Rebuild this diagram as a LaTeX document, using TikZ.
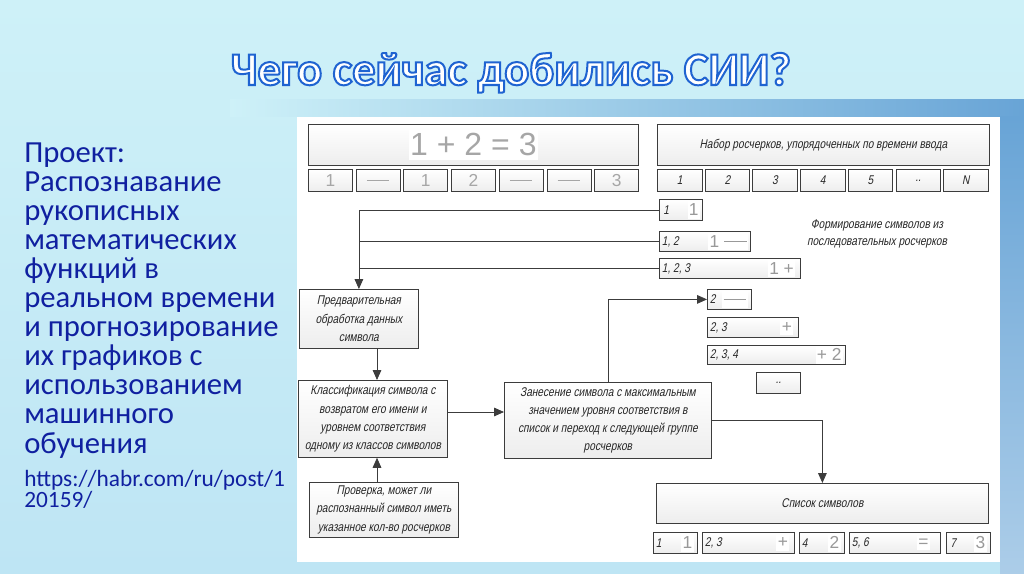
\documentclass[tikz,border=0pt]{standalone}
\usepackage{fontspec}
\setmainfont{Carlito}
\newfontfamily\gost{Liberation Sans}[FakeSlant=0.2,FakeStretch=0.8]
\newfontfamily\hand{Liberation Sans}
\usetikzlibrary{arrows.meta}
\definecolor{bgtop}{RGB}{206,241,248}
\definecolor{bgbot}{RGB}{190,229,244}
\definecolor{band}{RGB}{104,164,214}
\definecolor{navy}{RGB}{16,32,160}
\definecolor{ink}{RGB}{60,60,60}
% outlined title text (fill + stroke)
\newcommand{\rimtext}[1]{\special{pdf:literal 2 Tr 1.5 w 0.12 0.39 0.82 RG}#1\special{pdf:literal 0 Tr 0.6 w}}
% handwritten dash
\newcommand{\hdash}{\vphantom{1}\rule[0.34em]{1.3em}{0.6pt}}
\tikzset{
  blk/.style 2 args={draw=ink, line width=0.6pt, top color=white, bottom color=black!7,
    anchor=north west, inner sep=0pt, minimum width=#1*0.75pt, minimum height=#2*0.75pt,
    font=\gost\fontsize{9.5}{13.7}\selectfont, text=black!85, align=center},
  lbl/.style={anchor=west, inner sep=0pt, font=\gost\fontsize{9.5}{11}\selectfont, text=black!85},
  hw/.style={anchor=east, inner xsep=1pt, inner ysep=2pt, fill=white,
    font=\hand\fontsize{13}{13}\selectfont, text=black!40},
  hrow/.style={font=\hand\fontsize{13}{13}\selectfont, text=black!35},
  txt/.style={anchor=base west, inner sep=0pt, font=\fontsize{23}{23}\selectfont, text=navy},
  arw/.style={draw=ink, line width=0.6pt, -{Triangle[length=7.5pt,width=6.5pt]}},
  ln/.style={draw=ink, line width=0.6pt}
}
\begin{document}
\begin{tikzpicture}[x=0.75pt,y=0.75pt,yscale=-1,xscale=1]
\useasboundingbox (0,0) rectangle (1024,574);

% slide background
\shade[top color=bgtop, bottom color=bgbot] (0,0) rectangle (1024,574);
\shade[left color=bgtop, right color=band] (230,100) rectangle (1024,117);
\shade[top color=band, bottom color=band!55!white] (1000,117) rectangle (1024,574);
\fill[white] (297,117) rectangle (1000,562);

% title
\node[font=\bfseries\fontsize{35}{35}\selectfont, text=white, anchor=base] (ttl) at (511,85) {\rimtext{Чего сейчас добились СИИ?}};

% left text
\foreach \t [count=\i] in {Проект:,Распознавание,рукописных,математических,функций в,реальном времени,и прогнозирование,их графиков с,использованием,машинного,обучения}
  \node[txt] (p\i) at (24,{162+29.1*(\i-1)}) {\t};
\node[txt, anchor=north west, align=left, font=\fontsize{17.5}{13.5}\selectfont] (url) at (24,470) {https://habr.com/ru/post/1\\20159/};

% input: handwritten expression
\node[blk={330}{41}] (eq) at (308,124) {};
\node[hw, anchor=center, font=\hand\fontsize{24}{24}\selectfont, inner ysep=3pt, text=black!35] (eqt) at (eq.center) {1 + 2 = 3};
\node[blk={44}{22}, hrow] (a1) at (308,169) {1};
\node[blk={44}{22}, hrow] (a2) at (355.7,169) {\hdash};
\node[blk={44}{22}, hrow] (a3) at (403.4,169) {1};
\node[blk={44}{22}, hrow] (a4) at (451.1,169) {2};
\node[blk={44}{22}, hrow] (a5) at (498.8,169) {\hdash};
\node[blk={44}{22}, hrow] (a6) at (546.5,169) {\hdash};
\node[blk={44}{22}, hrow] (a7) at (594.2,169) {3};

% input: strokes by time
\node[blk={332}{41}] (set) at (657,124) {Набор росчерков, упорядоченных по времени ввода};
\node[blk={44.5}{22}] (r1) at (657,169) {1};
\node[blk={44.5}{22}] (r2) at (704.7,169) {2};
\node[blk={44.5}{22}] (r3) at (752.4,169) {3};
\node[blk={44.5}{22}] (r4) at (800.1,169) {4};
\node[blk={44.5}{22}] (r5) at (847.8,169) {5};
\node[blk={44.5}{22}] (r6) at (895.5,169) {..};
\node[blk={44.5}{22}] (r7) at (943.2,169) {N};

% groups of strokes
\node[blk={43}{21}] (s1) at (659,199) {};
\node[lbl] (s1a) at ([xshift=3pt]s1.west) {1};
\node[hw] (s1b) at ([xshift=-2pt]s1.east) {1};
\node[blk={91}{20}] (s12) at (659,231) {};
\node[lbl] (s12a) at ([xshift=2pt]s12.west) {1, 2};
\node[hw] (s12b) at ([xshift=-2pt]s12.east) {1 \hdash};
\node[blk={141}{20}] (s123) at (659,258) {};
\node[lbl] (s123a) at ([xshift=2pt]s123.west) {1, 2, 3};
\node[hw] (s123b) at ([xshift=-4pt]s123.east) {1 +};
\node[font=\gost\fontsize{9.5}{12.8}\selectfont, text=black!85, align=center] (fm) at (877,234) {Формирование символов из\\последовательных росчерков};

\node[blk={44}{20}] (s2) at (707,289) {};
\node[lbl] (s2a) at ([xshift=2pt]s2.west) {2};
\node[hw] (s2b) at ([xshift=-3pt]s2.east) {\hdash};
\node[blk={91}{20}] (s23) at (707,317) {};
\node[lbl] (s23a) at ([xshift=2pt]s23.west) {2, 3};
\node[hw] (s23b) at ([xshift=-4pt]s23.east) {+};
\node[blk={138}{19}] (s234) at (707,345) {};
\node[lbl] (s234a) at ([xshift=2pt]s234.west) {2, 3, 4};
\node[hw] (s234b) at ([xshift=-2pt]s234.east) {+ 2};
\node[blk={44}{21}] (sd) at (756,372) {..};

% processing
\node[blk={119}{59}] (prep) at (299,289) {Предварительная\\обработка данных\\символа};
\node[blk={149}{77}] (cls) at (298,380) {Классификация символа с\\возвратом его имени и\\уровнем соответствия\\одному из классов символов};
\node[blk={149}{55}] (chk) at (309,482) {Проверка, может ли\\распознанный символ иметь\\указанное кол-во росчерков};
\node[blk={207}{76}] (put) at (504,382) {Занесение символа с максимальным\\значением уровня соответствия в\\список и переход к следующей группе\\росчерков};

% result
\node[blk={332}{40}] (lst) at (656,483) {Список символов};
\node[blk={44}{21}] (b1) at (653,532) {};
\node[lbl] (b1a) at ([xshift=2pt]b1.west) {1};
\node[hw] (b1b) at ([xshift=-3pt]b1.east) {1};
\node[blk={92}{21}] (b2) at (702,532) {};
\node[lbl] (b2a) at ([xshift=2pt]b2.west) {2, 3};
\node[hw] (b2b) at ([xshift=-4pt]b2.east) {+};
\node[blk={45}{21}] (b3) at (799,532) {};
\node[lbl] (b3a) at ([xshift=2pt]b3.west) {4};
\node[hw] (b3b) at ([xshift=-3pt]b3.east) {2};
\node[blk={91}{21}] (b4) at (849,532) {};
\node[lbl] (b4a) at ([xshift=2pt]b4.west) {5, 6};
\node[hw] (b4b) at ([xshift=-8pt]b4.east) {=};
\node[blk={44}{21}] (b5) at (946,532) {};
\node[lbl] (b5a) at ([xshift=3pt]b5.west) {7};
\node[hw] (b5b) at ([xshift=-3pt]b5.east) {3};

% connectors
\coordinate (vx) at (377,0);
\coordinate (hy) at (0,412);
\draw[arw] (s1.west) -| (prep.north);
\draw[ln] (s12.west) -- (s12.west -| prep.north);
\draw[ln] (s123.west) -- (s123.west -| prep.north);
\draw[arw] (prep.south -| vx) -- (cls.north -| vx);
\draw[arw] (chk.north -| vx) -- (cls.south -| vx);
\draw[arw] (cls.east |- hy) -- (put.west |- hy);
\draw[arw] (put.north) |- (s2.west);
\draw[arw] (put.east) -| (lst.north);

\end{tikzpicture}
\end{document}
